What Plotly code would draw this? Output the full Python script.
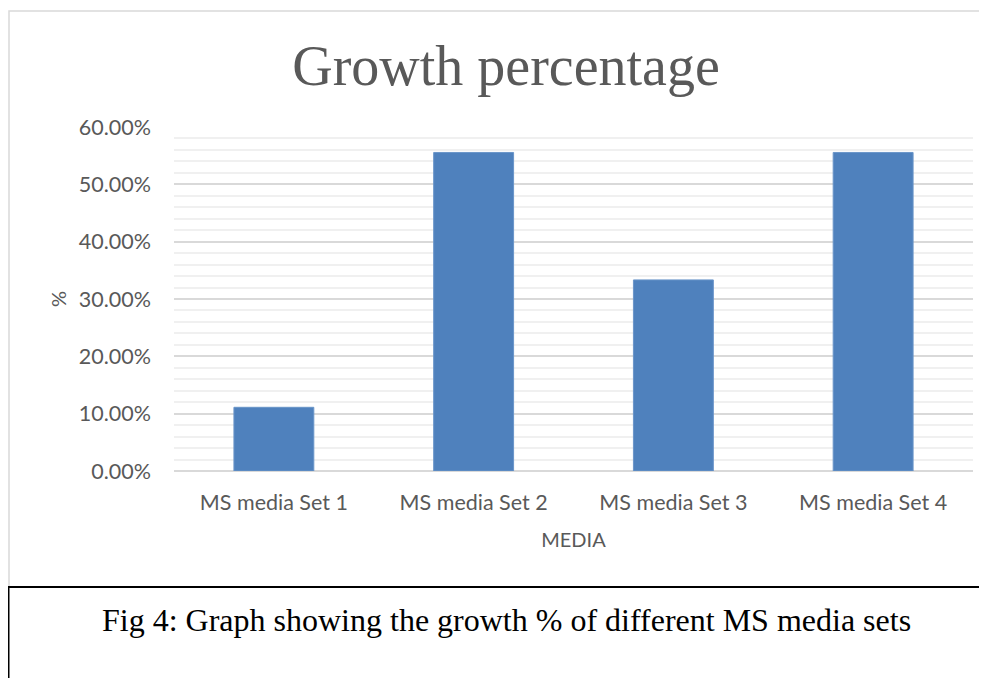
import plotly.graph_objects as go

categories = ["MS media Set 1", "MS media Set 2", "MS media Set 3", "MS media Set 4"]
growth = [0.1111, 0.5556, 0.3333, 0.5556]
y_ticks = [0, 0.1, 0.2, 0.3, 0.4, 0.5, 0.6]

W, H = 987, 678
OFF = 8  # page body margin offset


def px(x):
    return (x - OFF) / W


def py(y):
    return 1 - (y - OFF) / H


x0, x1 = 174, 973
y_top, y_bot = 127, 471
SANS = "Lato, sans-serif"
GREY = "#595959"

fig = go.Figure(go.Bar(
    x=categories, y=growth,
    marker=dict(color="#4F81BD", line=dict(color="#6A95C9", width=1)),
    width=0.4,
))

fig.update_layout(
    template="none",
    width=W, height=H,
    margin=dict(l=0, r=0, t=0, b=0, autoexpand=False),
    paper_bgcolor="white", plot_bgcolor="white",
    showlegend=False,
    title=dict(text="Growth percentage", x=px(506), xanchor="center",
               y=py(65), yanchor="middle", automargin=False,
               font=dict(family="Liberation Serif, serif", size=56, color=GREY)),
    xaxis=dict(domain=[px(x0), px(x1)], showgrid=False, showline=False, automargin=False,
               ticks="", ticklabelstandoff=16,
               tickfont=dict(family=SANS, size=21.5, color=GREY),
               title=dict(text="MEDIA", font=dict(family=SANS, size=20, color=GREY),
                          standoff=19)),
    yaxis=dict(domain=[py(y_bot), py(y_top)], range=[0, 0.6], automargin=False,
               tickvals=y_ticks, tickformat=".2%",
               tickfont=dict(family=SANS, size=21.5, color=GREY),
               gridcolor="#D9D9D9", gridwidth=1.5, zeroline=True, zerolinecolor="#D9D9D9",
               zerolinewidth=1.5, showline=False, ticks="", ticklabelstandoff=22,
               minor=dict(dtick=0.02, showgrid=True, gridcolor="#F0F0F0", gridwidth=1.5),
               title=dict(text="%", font=dict(family=SANS, size=20, color=GREY),
                          standoff=6)),
    shapes=[
        dict(type="rect", xref="paper", yref="paper",
             x0=px(9), x1=1.05, y0=py(600), y1=py(11),
             line=dict(color="#D9D9D9", width=1.5), fillcolor="rgba(0,0,0,0)", layer="below"),
        dict(type="rect", xref="paper", yref="paper",
             x0=px(8.5), x1=1.05, y0=-0.05, y1=py(587),
             line=dict(color="black", width=2), fillcolor="white"),
    ],
    annotations=[
        dict(text="Fig 4: Graph showing the growth % of different MS media sets",
             xref="paper", yref="paper", x=px(506), y=py(620),
             xanchor="center", yanchor="middle", showarrow=False,
             font=dict(family="Liberation Serif, serif", size=32, color="black")),
    ],
)

fig.write_html("out.html")
